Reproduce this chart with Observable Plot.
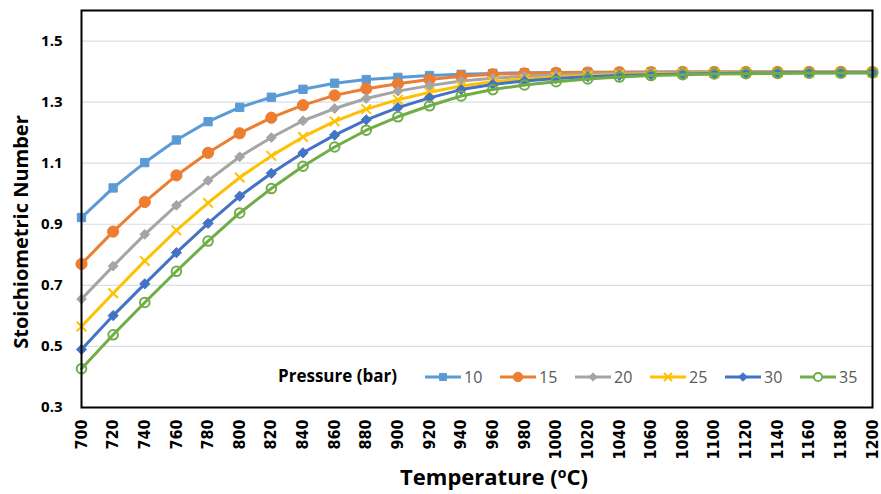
<!DOCTYPE html>
<html>
<head>
<meta charset="utf-8">
<script src="https://cdn.jsdelivr.net/npm/d3@7"></script>
<script src="https://cdn.jsdelivr.net/npm/@observablehq/plot@0.6"></script>
<style>
  html, body { margin: 0; padding: 0; background: #fff; }
  #wrap { position: relative; width: 881px; height: 494px; }
  #legend { position: absolute; left: 0; top: 0; width: 881px; height: 494px; pointer-events: none;
            font-family: "Open Sans", Lato, sans-serif; font-size: 16px; color: #595959; white-space: nowrap; }
  #legend .title { position: absolute; font-weight: bold; color: #000; font-size: 17px; line-height: 20px; }
  #legend .item { position: absolute; display: flex; align-items: center; height: 20px; }
  #legend svg { margin-right: 3px; }
</style>
</head>
<body>
<div id="wrap"><div id="legend"></div></div>
<script>
// ---- data ----
const temperatures = [700, 720, 740, 760, 780, 800, 820, 840, 860, 880, 900, 920, 940, 960, 980, 1000, 1020, 1040, 1060, 1080, 1100, 1120, 1140, 1160, 1180, 1200];
const pressures = ["10", "15", "20", "25", "30", "35"];
const p10 = [0.922, 1.019, 1.102, 1.176, 1.236, 1.283, 1.316, 1.342, 1.362, 1.374, 1.381, 1.387, 1.391, 1.394, 1.396, 1.397, 1.398, 1.398, 1.399, 1.399, 1.399, 1.399, 1.399, 1.399, 1.399, 1.399];
const p15 = [0.770, 0.876, 0.973, 1.060, 1.134, 1.198, 1.249, 1.290, 1.322, 1.344, 1.360, 1.374, 1.385, 1.391, 1.394, 1.396, 1.397, 1.398, 1.398, 1.399, 1.399, 1.399, 1.399, 1.399, 1.399, 1.399];
const p20 = [0.655, 0.763, 0.867, 0.962, 1.043, 1.121, 1.184, 1.239, 1.279, 1.312, 1.336, 1.354, 1.369, 1.378, 1.385, 1.389, 1.392, 1.394, 1.396, 1.397, 1.397, 1.398, 1.398, 1.398, 1.398, 1.398];
const p25 = [0.565, 0.674, 0.780, 0.880, 0.970, 1.053, 1.124, 1.186, 1.237, 1.277, 1.308, 1.332, 1.353, 1.367, 1.376, 1.382, 1.387, 1.390, 1.393, 1.394, 1.395, 1.396, 1.397, 1.397, 1.397, 1.397];
const p30 = [0.490, 0.601, 0.705, 0.807, 0.903, 0.992, 1.067, 1.134, 1.192, 1.242, 1.282, 1.314, 1.341, 1.358, 1.369, 1.377, 1.383, 1.387, 1.390, 1.392, 1.394, 1.395, 1.396, 1.396, 1.396, 1.396];
const p35 = [0.427, 0.538, 0.644, 0.746, 0.845, 0.937, 1.017, 1.090, 1.153, 1.208, 1.252, 1.288, 1.320, 1.341, 1.356, 1.367, 1.376, 1.382, 1.387, 1.390, 1.392, 1.393, 1.394, 1.395, 1.395, 1.396];
const yTicks = [0.3, 0.5, 0.7, 0.9, 1.1, 1.3, 1.5];
const xTicks = temperatures;
const xTitle = "Temperature (oC)";
const yTitle = "Stoichiometric Number";
const legendTitle = "Pressure (bar)";

// ---- styles ----
const seriesValues = [p10, p15, p20, p25, p30, p35];
const styles = [
  {color: "#5B9BD5", symbol: "square", r: 4.7, fill: true},
  {color: "#ED7D31", symbol: "circle", r: 5.6, fill: true},
  {color: "#A5A5A5", symbol: "diamond2", r: 4.4, fill: true},
  {color: "#FFC000", symbol: "times", r: 4.4, fill: false},
  {color: "#4472C4", symbol: "diamond2", r: 4.6, fill: true},
  {color: "#70AD47", symbol: "circle", r: 4.8, fill: false}
];
const titleFont = "'Open Sans', Lato, sans-serif";

const series = pressures.map((p, i) => temperatures.map((t, j) => ({T: t, v: seriesValues[i][j], p})));

const marks = [
  Plot.ruleY(yTicks, {stroke: "#d5dfe9", strokeWidth: 1.2}),
];
series.forEach((data, i) => {
  const s = styles[i];
  marks.push(Plot.line(data, {x: "T", y: "v", stroke: s.color, strokeWidth: 3}));
  marks.push(Plot.dot(data, {x: "T", y: "v", symbol: () => s.symbol, r: s.r,
    fill: s.fill ? s.color : "none", stroke: s.color, strokeWidth: s.fill ? 1 : 2}));
});
marks.push(Plot.frame({stroke: "#000", strokeWidth: 2}));
marks.push(Plot.axisY({ticks: yTicks, tickSize: 0, tickPadding: 19, tickFormat: d3.format(".1f"), label: null,
  fontSize: 15, fontWeight: "bold", fontFamily: titleFont, fill: "#000"}));
marks.push(Plot.axisX({ticks: xTicks, tickSize: 0, tickPadding: 12, tickRotate: -90, tickFormat: d => String(d), label: null,
  fontSize: 16, fontWeight: "bold", fontFamily: "'DejaVu Sans Condensed', 'DejaVu Sans', sans-serif", fill: "#000"}));
marks.push(Plot.text([xTitle], {frameAnchor: "bottom", text: d => d, dx: 17, dy: 70, textAnchor: "middle", lineAnchor: "middle",
  fontSize: 22, fontWeight: "bold", fontFamily: titleFont, fill: "#000"}));
marks.push(Plot.text([yTitle], {frameAnchor: "left", text: d => d, rotate: -90, dx: -60, dy: 23, textAnchor: "middle", lineAnchor: "middle",
  fontSize: 20, fontWeight: "bold", fontFamily: titleFont, fill: "#000"}));

const chart = Plot.plot({
  width: 881, height: 494,
  marginLeft: 81, marginRight: 9, marginTop: 10, marginBottom: 87,
  x: {type: "linear", domain: [700, 1200]},
  y: {type: "linear", domain: [0.3, 1.6]},
  symbol: {type: "identity"},
  style: {background: "#fff", overflow: "visible"},
  marks
});
document.getElementById("wrap").prepend(chart);

// superscript "o" in the x title
chart.querySelectorAll("text").forEach(t => {
  if (t.textContent === xTitle) {
    t.textContent = "";
    const ns = "http://www.w3.org/2000/svg";
    const a = document.createElementNS(ns, "tspan"); a.textContent = "Temperature (";
    const b = document.createElementNS(ns, "tspan"); b.textContent = "o"; b.setAttribute("dy", "-7"); b.setAttribute("font-size", "14");
    const c = document.createElementNS(ns, "tspan"); c.textContent = "C)"; c.setAttribute("dy", "7");
    t.append(a, b, c);
  }
});

// legend
const legend = document.getElementById("legend");
const title = document.createElement("div"); title.className = "title"; title.textContent = legendTitle;
title.style.left = "278px"; title.style.top = "366px";
legend.append(title);
const symMap = {square: d3.symbolSquare, circle: d3.symbolCircle, diamond2: d3.symbolDiamond2, times: d3.symbolTimes};
pressures.forEach((p, i) => {
  const s = styles[i];
  const item = document.createElement("div"); item.className = "item";
  item.style.left = (425 + 75 * i) + "px"; item.style.top = "367px";
  const sw = d3.create("svg").attr("width", 36).attr("height", 14);
  sw.append("line").attr("x1", 0).attr("x2", 36).attr("y1", 7).attr("y2", 7).attr("stroke", s.color).attr("stroke-width", 3);
  const rr = s.r * 0.85;
  sw.append("path").attr("transform", "translate(18,7)")
    .attr("d", d3.symbol(symMap[s.symbol], Math.PI * rr * rr)())
    .attr("fill", s.fill ? s.color : "#fff").attr("stroke", s.color).attr("stroke-width", s.fill ? 1 : 2);
  const lab = document.createElement("span"); lab.textContent = p;
  item.append(sw.node(), lab);
  legend.append(item);
});
</script>
</body>
</html>
